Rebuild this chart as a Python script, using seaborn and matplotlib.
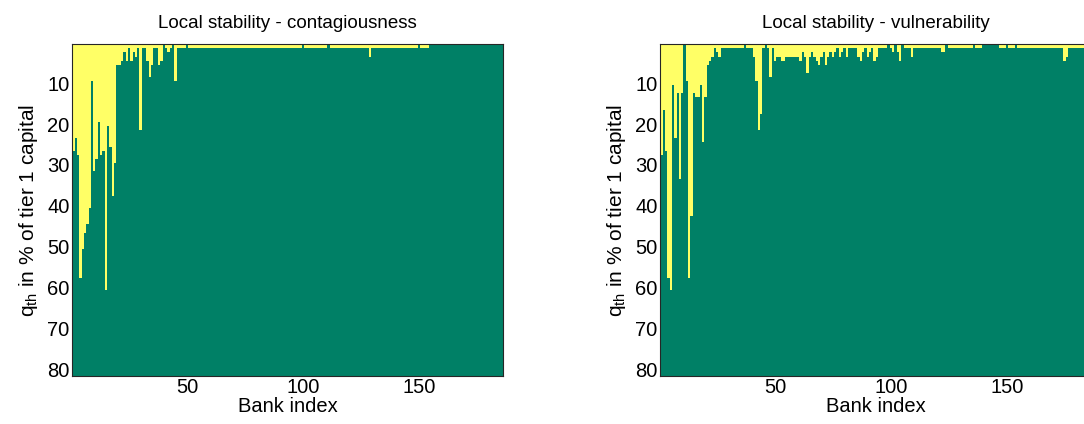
import numpy as np
import pandas as pd
import seaborn as sns
import matplotlib
matplotlib.use("Agg")
import matplotlib.pyplot as plt
from matplotlib.colors import ListedColormap

# ---------------- data ----------------
n_q = 81  # q_th levels 1..81 (% of tier 1 capital)

# last unstable (yellow) q_th level per bank, contagiousness
contagious_threshold = (
    [26, 23, 27, 57, 50, 46, 44, 40, 9, 31, 28, 19, 27, 26, 60, 20, 25, 37, 29]
    + [5, 5, 4, 2, 4, 1, 4, 2, 3, 1, 21]
    + [1, 1, 4, 8, 5, 1, 1, 5, 4, 0, 1, 2, 1, 0, 9, 1, 1, 1, 1, 0]
    + [1] * 49
    + [0]
    + [1] * 10
    + [0]
    + [1] * 17
    + [3]
    + [1] * 20
    + [0]
    + [1] * 4
    + [0] * 32
)

# last unstable (yellow) q_th level per bank, vulnerability
vulnerable_threshold = (
    [27, 16, 26, 57, 60, 10, 23, 12, 33, 12, 0, 9, 57, 42, 12, 13, 13, 10, 24, 13]
    + [5, 4, 3, 1, 2, 3, 1, 1, 1, 1]
    + [1, 1, 1, 1, 1, 1, 0, 1, 1, 1]
    + [3, 9, 21, 17, 1, 0, 1, 8, 1, 4]
    + [3, 3, 4, 4, 3, 3, 3, 3, 3, 3]
    + [4, 2, 3, 7, 3, 2, 3, 4, 5, 3]
    + [2, 5, 3, 2, 3, 2, 1, 3, 2, 1]
    + [3, 1, 1, 1, 1, 3, 4, 2, 1, 3]
    + [2, 1, 4, 3, 1, 1, 1, 1, 0, 1]
    + [2, 0, 2, 4, 0, 1, 1, 1, 3, 1]
    + [1] * 11
    + [2, 2]
    + [0]
    + [1] * 11
    + [0]
    + [1, 1, 1]
    + [0] * 7
    + [1, 1, 1]
    + [0]
    + [1, 1, 1]
    + [0]
    + [1] * 20
    + [4, 3]
    + [1] * 10
)

titles = ["Local stability - contagiousness", "Local stability - vulnerability"]
x_ticks = [50, 100, 150]
y_ticks = [10, 20, 30, 40, 50, 60, 70, 80]

# ---------------- style ----------------
sns.set_theme(style="white")
plt.rcParams["font.family"] = ["Liberation Sans", "DejaVu Sans"]
plt.rcParams["mathtext.default"] = "regular"

green = (0.0, 0.5, 0.4)
yellow = (1.0, 1.0, 0.4)
cmap = ListedColormap([green, yellow])

W, H = 1084, 424
fig = plt.figure(figsize=(W / 100, H / 100), dpi=100)

axes_px = [(72.3, 44.3, 431.0, 331.4), (660.3, 44.3, 431.0, 331.4)]

for thr, title, (x0, y0, w, h) in zip(
    [contagious_threshold, vulnerable_threshold], titles, axes_px
):
    ax = fig.add_axes([x0 / W, 1 - (y0 + h) / H, w / W, h / H])
    n_banks = len(thr)
    q = np.arange(1, n_q + 1)
    mat = (q[:, None] <= np.array(thr)[None, :]).astype(int)
    df = pd.DataFrame(mat, index=q, columns=np.arange(1, n_banks + 1))
    sns.heatmap(df, ax=ax, cmap=cmap, vmin=0, vmax=1, cbar=False,
                xticklabels=False, yticklabels=False)
    ax.set_xticks([t - 0.5 for t in x_ticks])
    ax.set_xticklabels([str(t) for t in x_ticks], rotation=0)
    ax.set_yticks([t - 0.5 for t in y_ticks])
    ax.set_yticklabels([str(t) for t in y_ticks], rotation=0)
    ax.tick_params(direction="in", length=5, width=0.8, color="#262626",
                   top=True, right=True, bottom=True, left=True,
                   labelsize=14.5, labelcolor="black", pad=2)
    for s in ax.spines.values():
        s.set_visible(True)
        s.set_color("#262626")
        s.set_linewidth(0.8)
    ax.set_title(title, fontsize=13.5, pad=12, color="black")
    ax.set_xlabel("Bank index", fontsize=14.5, labelpad=0, color="black")
    ax.set_ylabel(r"q$_{th}$ in % of tier 1 capital", fontsize=15,
                  labelpad=5, color="black")

fig.savefig("out.png", dpi=100)
